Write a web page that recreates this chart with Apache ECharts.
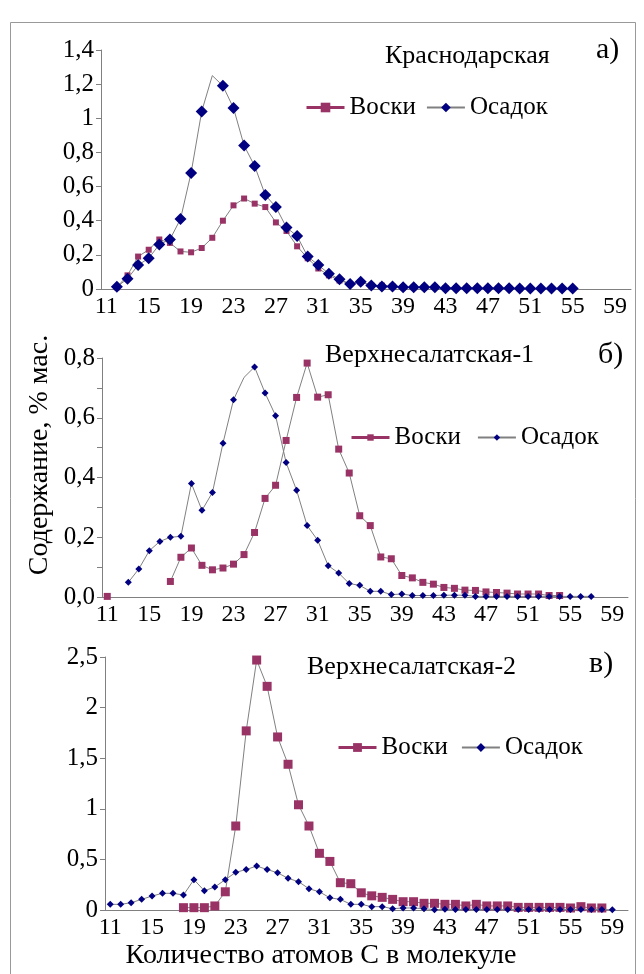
<!DOCTYPE html>
<html><head><meta charset="utf-8">
<script src="https://cdn.jsdelivr.net/npm/echarts@6/dist/echarts.min.js"></script>
<style>html,body{margin:0;padding:0;background:#fff}#c{width:644px;height:974px}</style>
</head><body><div id="c"></div>
<script>
const categories = ['11','12','13','14','15','16','17','18','19','20','21','22','23','24','25','26','27','28','29','30','31','32','33','34','35','36','37','38','39','40','41','42','43','44','45','46','47','48','49','50','51','52','53','54','55','56','57','58','59','60'];

// Panel а) Краснодарская
const aVoski = [null,0.01,0.08,0.19,0.23,0.29,0.27,0.22,0.215,0.24,0.30,0.40,0.49,0.53,0.50,0.48,0.39,0.34,0.25,0.18,0.12,0.08,0.05,0.03,0.04,0.02,0.02,0.015,0.01,0.01,0.01,0.012,0.005,0.005,0.005,0.005,0.005,0.005,0.005,0.003,null,null,null,null,null,null,null,null,null,null];
const aOsadok = [null,0.013,0.06,0.14,0.18,0.26,0.29,0.41,0.68,1.04,1.25,1.19,1.06,0.84,0.72,0.55,0.48,0.36,0.31,0.19,0.14,0.09,0.057,0.03,0.043,0.02,0.015,0.015,0.01,0.01,0.01,0.01,0.005,0.005,0.005,0.004,0.004,0.004,0.004,0.003,0.003,0.003,0.003,0.003,0.003,null,null,null,null,null];
const aOsadokNoMarker = ['21'];

// Panel б) Верхнесалатская-1
const bVoski = [0.002,null,null,null,null,null,0.052,0.133,0.164,0.106,0.091,0.097,0.11,0.142,0.216,0.33,0.374,0.524,0.668,0.783,0.669,0.677,0.495,0.415,0.272,0.239,0.134,0.128,0.072,0.064,0.049,0.043,0.032,0.029,0.023,0.022,0.017,0.015,0.013,0.01,0.01,0.01,0.005,0.005,null,null,null,null,null,null];
const bOsadok = [null,null,0.049,0.094,0.155,0.186,0.20,0.203,0.38,0.29,0.35,0.515,0.66,0.735,0.77,0.683,0.607,0.45,0.357,0.239,0.19,0.105,0.08,0.045,0.039,0.019,0.019,0.008,0.01,0.005,0.005,0.005,0.006,0.006,0.006,0.002,0.002,0.002,0.002,0.002,0.002,0.002,0.002,0.002,0.002,0.002,0.002,null,null,null];
const bOsadokNoMarker = ['24'];

// Panel в) Верхнесалатская-2
const cVoski = [null,null,null,null,null,null,null,0.023,0.023,0.023,0.04,0.18,0.83,1.77,2.47,2.21,1.71,1.44,1.04,0.83,0.56,0.48,0.27,0.26,0.17,0.14,0.125,0.105,0.082,0.082,0.066,0.066,0.056,0.056,0.04,0.056,0.04,0.04,0.04,0.026,0.026,0.026,0.026,0.026,0.02,0.033,0.02,0.02,null,null];
const cOsadok = [0.056,0.056,0.072,0.105,0.138,0.165,0.165,0.148,0.30,0.19,0.227,0.30,0.372,0.40,0.434,0.40,0.368,0.313,0.28,0.21,0.18,0.12,0.105,0.056,0.056,0.033,0.033,0.013,0.02,0.02,0.013,0.003,0.007,0.005,0.005,0.005,0.005,0.005,0.005,0.005,0.005,0.005,0.005,0.005,0.005,0.005,0.005,0.005,0.002,null];

const yTicksA = {min:0, max:1.4, interval:0.2};
const yTicksB = {min:0, max:0.8, interval:0.1};
const yTicksC = {min:0, max:2.5, interval:0.5};

const FONT = '"Liberation Serif", "Times New Roman", serif';
const PINK = '#993366', NAVY = '#000080', GREY = '#808080';

function markerData(vals, hidden) {
  return vals.map((v, i) => hidden && hidden.indexOf(categories[i]) >= 0 ? {value: v, symbol: 'none'} : v);
}
const grids = [
  {left:101, top:50, width:530, height:239},
  {left:102, top:358, width:526, height:239},
  {left:105, top:657, width:523, height:253}
];
function xAxis(i) {
  return {type:'category', gridIndex:i, data:categories, boundaryGap:true,
    axisLine:{lineStyle:{color:GREY, width:1}},
    axisTick:{interval:0, length:5, lineStyle:{color:GREY}},
    axisLabel:{interval:3, color:'#000', fontFamily:FONT, fontSize:24, margin:6}
  };
}
function yAxis(i, t, fmt) {
  return {type:'value', gridIndex:i, min:t.min, max:t.max, interval:t.interval,
    axisLine:{show:true, lineStyle:{color:GREY}},
    axisTick:{show:true, length:5, lineStyle:{color:GREY}},
    splitLine:{show:false},
    axisLabel:{color:'#000', fontFamily:FONT, fontSize:25, margin:7, formatter:fmt}
  };
}
const comma = v => String(Math.round(v*10)/10).replace('.', ',');
const fmtB = v => (Math.round(v*10) % 2 === 0) ? (Math.round(v*10)/10).toFixed(1).replace('.', ',') : '';

function line(name, i, data, symbol, size, color, z) {
  return {name:name, type:'line', xAxisIndex:i, yAxisIndex:i, data:data, symbol:symbol, symbolSize:size,
    showAllSymbol:true, connectNulls:false, z:z,
    lineStyle:{color:GREY, width:1}, itemStyle:{color:color}, emphasis:{disabled:true}};
}
function legend(left, top, h, gap) {
  return {left:left, top:top, padding:0, itemWidth:38, itemHeight:h, itemGap:gap, selectedMode:false,
    textStyle:{fontFamily:FONT, fontSize:25, color:'#000'},
    data:[{name:'Воски', lineStyle:{color:PINK, width:3}}, {name:'Осадок'}]};
}
function txt(x, y, s, size) {
  return {type:'text', x:x, y:y, style:{text:s, font: size + 'px ' + FONT, fill:'#000', textVerticalAlign:'middle'}};
}

const chart = echarts.init(document.getElementById('c'));
chart.setOption({
  animation:false,
  backgroundColor:'#fff',
  grid:grids,
  xAxis:[xAxis(0), xAxis(1), xAxis(2)],
  yAxis:[yAxis(0, yTicksA, comma), yAxis(1, yTicksB, fmtB), yAxis(2, yTicksC, comma)],
  legend:[legend(305, 95, 12, 10), legend(350, 425, 8, 16), legend(337, 735, 11, 13)],
  series:[
    line('Воски', 0, aVoski, 'rect', 6, PINK, 2),
    line('Осадок', 0, markerData(aOsadok, aOsadokNoMarker), 'diamond', 12, NAVY, 3),
    line('Воски', 1, bVoski, 'rect', 7, PINK, 2),
    line('Осадок', 1, markerData(bOsadok, bOsadokNoMarker), 'diamond', 7, NAVY, 3),
    line('Воски', 2, cVoski, 'rect', 9, PINK, 2),
    line('Осадок', 2, cOsadok, 'diamond', 7, NAVY, 3)
  ],
  graphic:[
    {type:'rect', shape:{x:10.5, y:22.5, width:625, height:960}, style:{fill:null, stroke:'#999', lineWidth:1}, z:-1},
    txt(385, 56, 'Краснодарская', 26),
    txt(596, 50, 'а)', 30),
    txt(325, 355, 'Верхнесалатская-1', 26),
    txt(598, 355, 'б)', 30),
    txt(307, 667, 'Верхнесалатская-2', 26),
    txt(589, 664, 'в)', 30),
    {type:'text', x:321, y:956, style:{text:'Количество атомов С в молекуле', font:'28px '+FONT, fill:'#000', textAlign:'center', textVerticalAlign:'middle'}},
    {type:'text', x:40, y:455, rotation:Math.PI/2, style:{text:'Содержание, % мас.', font:'28px '+FONT, fill:'#000', textAlign:'center', textVerticalAlign:'middle'}}
  ]
});
</script></body></html>
